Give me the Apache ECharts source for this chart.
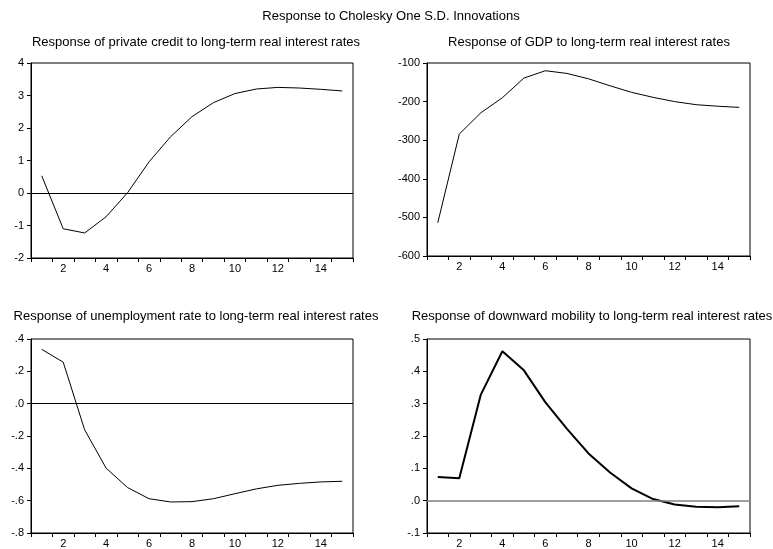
<!DOCTYPE html>
<html>
<head>
<meta charset="utf-8">
<script src="https://cdn.jsdelivr.net/npm/echarts@6/dist/echarts.min.js"></script>
<style>html,body{margin:0;padding:0;background:#fff}#c{width:773px;height:549px}</style>
</head>
<body>
<div id="c"></div>
<script>
const periods = ['1','2','3','4','5','6','7','8','9','10','11','12','13','14','15'];
const privateCredit = [0.53, -1.10, -1.23, -0.73, 0.01, 0.96, 1.73, 2.35, 2.78, 3.06, 3.20, 3.25, 3.23, 3.19, 3.14];
const gdp = [-514, -284, -229, -190, -139, -120, -127, -141, -159, -176, -189, -200, -208, -212, -215];
const unemployment = [0.336, 0.257, -0.162, -0.399, -0.519, -0.588, -0.608, -0.606, -0.588, -0.557, -0.527, -0.505, -0.493, -0.484, -0.480];
const downwardMobility = [0.073, 0.069, 0.328, 0.462, 0.403, 0.304, 0.222, 0.146, 0.087, 0.038, 0.005, -0.012, -0.019, -0.020, -0.017];

const mainTitle = 'Response to Cholesky One S.D. Innovations';
const panelTitles = [
  'Response of private credit to long-term real interest rates',
  'Response of GDP to long-term real interest rates',
  'Response of unemployment rate to long-term real interest rates',
  'Response of downward mobility to long-term real interest rates'
];
const yRanges = [[-2, 4, 1], [-600, -100, 100], [-0.8, 0.4, 0.2], [-0.1, 0.5, 0.1]];
const seriesData = [privateCredit, gdp, unemployment, downwardMobility];

const FONT = 'Liberation Sans, Arial, sans-serif';
const grids = [
  {left: 31, top: 63, width: 322, height: 195},
  {left: 427, top: 63, width: 323, height: 193},
  {left: 31, top: 339, width: 322, height: 194},
  {left: 427, top: 339, width: 323, height: 194}
];
const titleTops = [31, 31, 305, 305];
const titleCenters = [191, 584, 191, 587];

function decFmt(v) {
  let s = (Math.round(v * 10) / 10).toFixed(1);
  return s.replace('0.', '.');
}

const option = {
  backgroundColor: '#fff',
  animation: false,
  title: [{text: mainTitle, left: 386, top: 5, textAlign: 'center',
    textStyle: {fontFamily: FONT, fontSize: 13, fontWeight: 'normal', color: '#000'}}]
    .concat(panelTitles.map((t, i) => ({
      text: t, left: titleCenters[i], top: titleTops[i], textAlign: 'center',
      textStyle: {fontFamily: FONT, fontSize: 13, fontWeight: 'normal', color: '#000'}
    }))),
  grid: grids.map(g => Object.assign({show: true, borderColor: '#000', borderWidth: 1, backgroundColor: '#fff'}, g)),
  xAxis: grids.map((g, i) => ({
    type: 'category', gridIndex: i, data: periods, boundaryGap: true,
    axisLine: {show: true, onZero: false, lineStyle: {color: '#000', width: 1}},
    axisTick: {show: true, inside: false, length: 4, interval: 0, lineStyle: {color: '#000'}},
    axisLabel: {interval: idx => idx % 2 === 1, margin: 5, fontFamily: FONT, fontSize: 11, color: '#000'},
    splitLine: {show: false}
  })),
  yAxis: yRanges.map((r, i) => ({
    type: 'value', gridIndex: i, min: r[0], max: r[1], interval: r[2],
    axisLine: {show: true, onZero: false, lineStyle: {color: '#000', width: 1}},
    axisTick: {show: true, inside: false, length: 4, lineStyle: {color: '#000'}},
    axisLabel: {margin: 7, fontFamily: FONT, fontSize: 11, color: '#000',
      formatter: i >= 2 ? decFmt : (v => String(v))},
    splitLine: {show: false}
  })),
  series: seriesData.map((d, i) => ({
    type: 'line', xAxisIndex: i, yAxisIndex: i, data: d, symbol: 'none',
    lineStyle: {color: '#000', width: i === 3 ? 2 : 1}, silent: true,
    markLine: {
      silent: true, symbol: 'none', label: {show: false},
      lineStyle: {color: i === 3 ? '#808080' : '#000', width: i === 3 ? 1.5 : 1, type: 'solid'},
      data: i === 1 ? [] : [{yAxis: 0}]
    }
  }))
};

const chart = echarts.init(document.getElementById('c'), null, {renderer: 'canvas'});
chart.setOption(option);
</script>
</body>
</html>
